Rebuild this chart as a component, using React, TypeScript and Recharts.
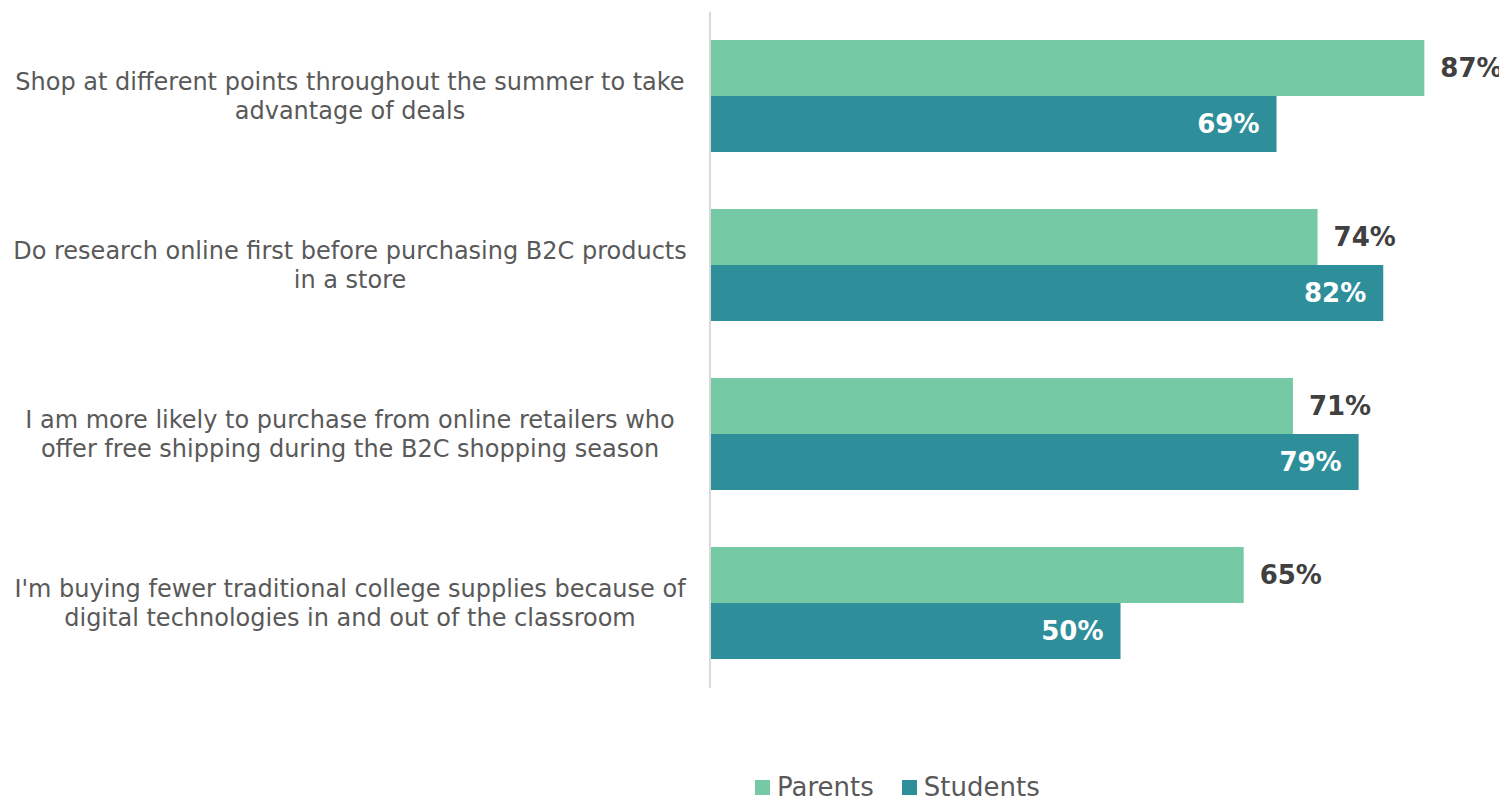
import { BarChart, Bar, XAxis, YAxis, Legend, LabelList } from 'recharts';

const categories: string[][] = [
  ['Shop at different points throughout the summer to take', 'advantage of deals'],
  ['Do research online first before purchasing B2C products', 'in a store'],
  ['I am more likely to purchase from online retailers who', 'offer free shipping during the B2C shopping season'],
  ["I'm buying fewer traditional college supplies because of", 'digital technologies in and out of the classroom'],
];
const parents = [87, 74, 71, 65];
const students = [69, 82, 79, 50];
const seriesNames = ['Parents', 'Students'];
const seriesColors = ['#75c9a5', '#2e8f9b'];

const data = categories.map((lines, i) => ({
  name: lines.join(' '),
  lines,
  Parents: parents[i],
  Students: students[i],
}));

const FONT = '"DejaVu Sans", Verdana, sans-serif';

function CategoryTick(props: any) {
  const { x, y, payload, index } = props;
  const lines = data[index]?.lines ?? [payload.value];
  const lh = 29;
  const start = -((lines.length - 1) * lh) / 2;
  const cx = x - 352;
  return (
    <text x={cx} y={y} textAnchor="middle" fill="#595959" fontSize={24} fontFamily={FONT}>
      {lines.map((l: string, i: number) => (
        <tspan key={i} x={cx} y={y + start + i * lh} dy="0.35em" textAnchor="middle">
          {l}
        </tspan>
      ))}
    </text>
  );
}

function LegendContent() {
  return (
    <div style={{ display: 'flex', alignItems: 'center', fontFamily: FONT, fontSize: 26, color: '#595959', lineHeight: '34px' }}>
      {seriesNames.map((n, i) => (
        <div key={n} style={{ display: 'flex', alignItems: 'center', marginRight: 28, whiteSpace: 'nowrap' }}>
          <span style={{ width: 15, height: 15, background: seriesColors[i], display: 'inline-block', marginRight: 7 }} />
          <span>{n}</span>
        </div>
      ))}
    </div>
  );
}

export default function App() {
  return (
    <BarChart
      width={1499}
      height={791}
      data={data}
      layout="vertical"
      margin={{ top: 4, right: 17, left: 0, bottom: 77 }}
      barCategoryGap="16.6%"
      barGap={0}
    >
      <XAxis type="number" domain={[0, 95]} hide />
      <YAxis
        type="category"
        dataKey="name"
        width={702}
        axisLine={{ stroke: '#d9d9d9', strokeWidth: 2 }}
        tickLine={false}
        tick={<CategoryTick />}
        interval={0}
      />
      <Legend
        verticalAlign="bottom"
        content={<LegendContent />}
        wrapperStyle={{ left: 747, top: 762, width: 520, height: 34 }}
      />
      <Bar dataKey="Parents" fill={seriesColors[0]} isAnimationActive={false}>
        <LabelList
          dataKey="Parents"
          position="right"
          offset={16}
          formatter={(v: number) => `${v}%`}
          style={{ fill: '#404040', fontWeight: 700, fontSize: 26, fontFamily: FONT }}
        />
      </Bar>
      <Bar dataKey="Students" fill={seriesColors[1]} isAnimationActive={false}>
        <LabelList
          dataKey="Students"
          position="insideRight"
          offset={17}
          formatter={(v: number) => `${v}%`}
          style={{ fill: '#ffffff', fontWeight: 700, fontSize: 26, fontFamily: FONT }}
        />
      </Bar>
    </BarChart>
  );
}
